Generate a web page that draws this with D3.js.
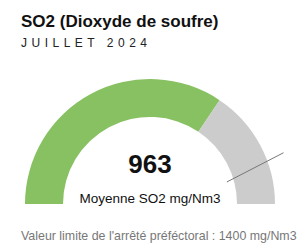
<!DOCTYPE html>
<meta charset="utf-8">
<style type="text/css">
  body {
    margin: 0;
    font-family: "Liberation Sans", Arial, sans-serif;
    background: #fff;
  }
</style>
<body>
  <script src="https://d3js.org/d3.v7.min.js"></script>
  <script>
    var w = 300;
    var h = 250;

    // data
    var titles = ["SO2 (Dioxyde de soufre)", "JUILLET 2024"];
    var gaugeValue = [963];
    var gaugeRange = [0, 1400];
    var gaugeColors = ["#88c161", "#cccccc"];
    var labels = ["Moyenne SO2 mg/Nm3", "Valeur limite de l'arrêté préféctoral : 1400 mg/Nm3"];

    var cx = 150, cy = 204;
    var rOuter = 125, rInner = 87;

    var svg = d3.select('body')
      .append('svg')
      .attr('width', w)
      .attr('height', h);

    // value -> angle (radians, d3.arc convention: 0 at top)
    var angle = d3.scaleLinear()
      .domain(gaugeRange)
      .range([-Math.PI / 2, Math.PI / 2]);

    var arc = d3.arc()
      .innerRadius(rInner)
      .outerRadius(rOuter);

    var g = svg.append('g')
      .attr('transform', 'translate(' + cx + ',' + cy + ')');

    var segs = [
      [gaugeRange[0], gaugeValue[0]],
      [gaugeValue[0], gaugeRange[1]]
    ];

    g.selectAll('path')
      .data(segs)
      .enter()
      .append('path')
      .attr('d', function(d) {
        return arc({ startAngle: angle(d[0]), endAngle: angle(d[1]) });
      })
      .attr('fill', function(d, i) { return gaugeColors[i]; });

    // thin marker line crossing the gray band
    function polar(r, deg) {
      var a = deg * Math.PI / 180;
      return [r * Math.cos(a), -r * Math.sin(a)];
    }
    var p1 = polar(80, 16), p2 = polar(143, 21);
    g.append('line')
      .attr('x1', p1[0]).attr('y1', p1[1])
      .attr('x2', p2[0]).attr('y2', p2[1])
      .attr('stroke', '#777')
      .attr('stroke-width', 1);

    // titles
    svg.append('text')
      .attr('x', 21)
      .attr('y', 27)
      .attr('font-size', 17)
      .attr('font-weight', 'bold')
      .attr('fill', '#111')
      .text(titles[0]);

    svg.append('text')
      .attr('x', 21)
      .attr('y', 47)
      .attr('font-size', 12)
      .attr('letter-spacing', 4.5)
      .attr('fill', '#222')
      .text(titles[1]);

    // value
    svg.append('text')
      .attr('x', cx)
      .attr('y', 173)
      .attr('text-anchor', 'middle')
      .attr('font-size', 26)
      .attr('font-weight', 'bold')
      .attr('fill', '#111')
      .text(gaugeValue[0]);

    svg.append('text')
      .attr('x', cx)
      .attr('y', 203)
      .attr('text-anchor', 'middle')
      .attr('font-size', 13.5)
      .attr('fill', '#111')
      .text(labels[0]);

    svg.append('text')
      .attr('x', 21)
      .attr('y', 240)
      .attr('font-size', 12.4)
      .attr('fill', '#777')
      .text(labels[1]);
  </script>
</body>
